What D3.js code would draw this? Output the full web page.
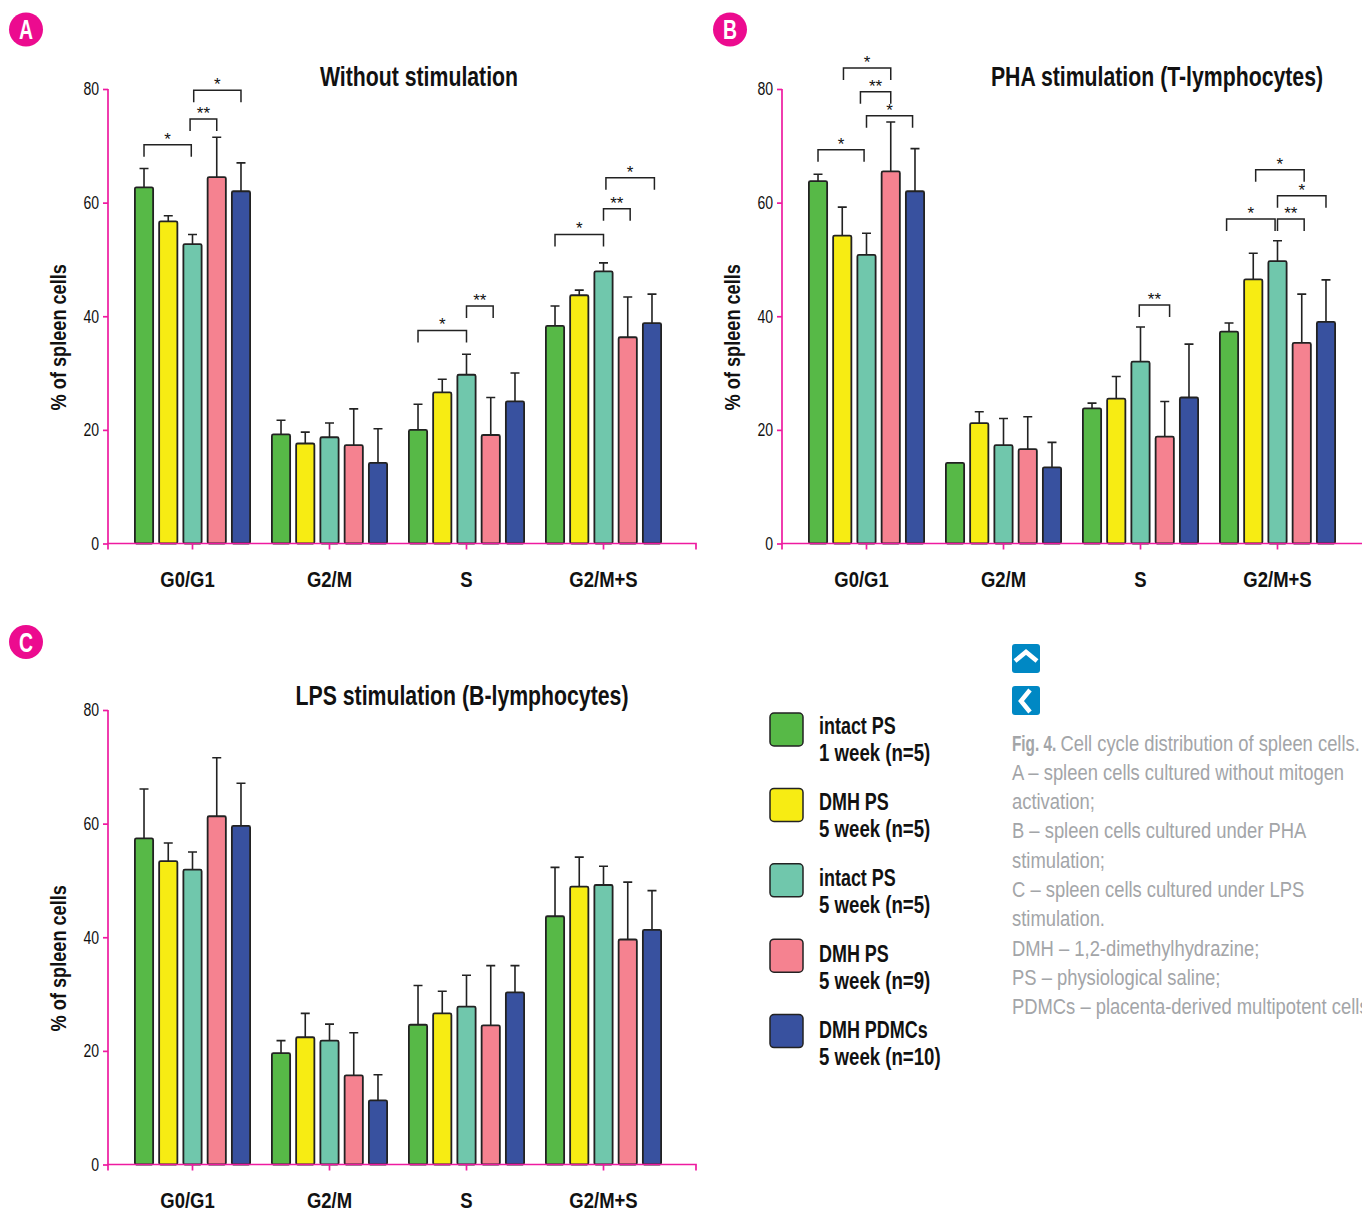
<!DOCTYPE html>
<html>
<head>
<meta charset="utf-8">
<script src="https://cdn.jsdelivr.net/npm/d3@7"></script>
<style>
  body { margin: 0; background: #fff; overflow: hidden; }
  text { font-family: "Liberation Sans", sans-serif; }
</style>
</head>
<body>
<script>
const categories = ['G0/G1', 'G2/M', 'S', 'G2/M+S'];
const seriesNames = ['intact PS', 'DMH PS', 'intact PS', 'DMH PS', 'DMH PDMCs'];
const seriesWeeks = ['1 week (n=5)', '5 week (n=5)', '5 week (n=5)', '5 week (n=9)', '5 week (n=10)'];
const seriesColors = ['#57b947', '#f7ec13', '#70c7ac', '#f58290', '#38519f'];
const yTicks = [0, 20, 40, 60, 80];

// one row per category, one value per series
const meansA = [[62.7, 56.7, 52.7, 64.5, 62], [19.2, 17.6, 18.7, 17.3, 14.2], [20, 26.6, 29.7, 19.1, 25], [38.3, 43.7, 47.9, 36.3, 38.8]];
const errorsA = [[66, 57.7, 54.4, 71.5, 67], [21.7, 19.6, 21.2, 23.7, 20.2], [24.5, 28.9, 33.3, 25.7, 30], [41.8, 44.6, 49.4, 43.4, 43.9]];
const meansB = [[63.8, 54.2, 50.8, 65.5, 62], [14.2, 21.2, 17.3, 16.6, 13.4], [23.8, 25.5, 32, 18.8, 25.7], [37.3, 46.5, 49.7, 35.3, 39]];
const errorsB = [[65, 59.2, 54.6, 74.2, 69.5], [14.2, 23.2, 22, 22.3, 17.8], [24.7, 29.4, 38.1, 25, 35.1], [38.8, 51.1, 53.3, 43.9, 46.4]];
const meansC = [[57.4, 53.4, 51.9, 61.3, 59.6], [19.6, 22.4, 21.8, 15.7, 11.3], [24.6, 26.6, 27.8, 24.5, 30.3], [43.7, 48.9, 49.2, 39.6, 41.3]];
const errorsC = [[66.1, 56.6, 55, 71.6, 67.1], [21.8, 26.6, 24.7, 23.2, 15.8], [31.5, 30.5, 33.3, 35, 35], [52.3, 54.1, 52.5, 49.7, 48.2]];

// category, from series, to series, level on the y scale, label
const bracketsA = [
  ['G0/G1', 0, 1.95, 70.2, '*'], ['G0/G1', 1.9, 3, 74.7, '**'], ['G0/G1', 2.05, 4, 79.8, '*'],
  ['S', 0, 2, 37.5, '*'], ['S', 2, 3.1, 41.8, '**'],
  ['G2/M+S', 0, 2, 54.4, '*'], ['G2/M+S', 2, 3.1, 58.9, '**'], ['G2/M+S', 2.1, 4.1, 64.4, '*']
];
const bracketsB = [
  ['G0/G1', 0, 1.9, 69.3, '*'], ['G0/G1', 1.05, 3, 83.7, '*'], ['G0/G1', 1.75, 3, 79.5, '**'], ['G0/G1', 2, 3.9, 75.3, '*'],
  ['S', 1.95, 3.2, 42, '**'],
  ['G2/M+S', -0.1, 1.9, 57.1, '*'], ['G2/M+S', 2, 3.1, 57.1, '**'], ['G2/M+S', 2, 4, 61.2, '*'], ['G2/M+S', 1.1, 3.1, 65.8, '*']
];

const captionLines = [
  'Cell cycle distribution of spleen cells.',
  'A – spleen cells cultured without mitogen',
  'activation;',
  'B – spleen cells cultured under PHA',
  'stimulation;',
  'C – spleen cells cultured under LPS',
  'stimulation.',
  'DMH – 1,2-dimethylhydrazine;',
  'PS – physiological saline;',
  'PDMCs – placenta-derived multipotent cells'
];

const magenta = '#ee1ba0';
const svg = d3.select('body').append('svg').attr('width', 1362).attr('height', 1209);

// No condensed face is installed, so narrow the glyphs of each text by hand
function squeeze(selection, factor) {
  selection.each(function () {
    const len = this.getComputedTextLength();
    d3.select(this).attr('textLength', len * factor).attr('lengthAdjust', 'spacingAndGlyphs');
  });
}

function drawPanel(opts) {
  const { left, top, title, titleX, titleY, means, errors, brackets, letter, badgeX, badgeY } = opts;
  const width = 588;
  const height = 454.5;

  const x0 = d3.scaleBand().domain(categories).range([16, 564]);
  const x1 = d3.scaleBand().domain(d3.range(5)).range([10, 127]).paddingInner(0.174);
  const y = d3.scaleLinear().domain([0, 80]).range([height, 0]);
  const barMid = (cat, s) => x0(cat) + x1(0) + x1.bandwidth() / 2 + s * x1.step();

  const chart = svg.append('g').attr('transform', `translate(${left},${top})`);

  // Bars and error bars
  categories.forEach((cat, c) => {
    const group = chart.append('g').selectAll('g')
      .data(means[c].map((m, s) => ({ m, e: errors[c][s], s })))
      .join('g');

    group.append('path')
      .attr('d', (d) => `M${barMid(cat, d.s)},${y(d.m)}V${y(d.e)}M${barMid(cat, d.s) - 4.5},${y(d.e)}h9`)
      .attr('stroke', '#222').attr('stroke-width', 1.6).attr('fill', 'none');

    group.append('rect')
      .attr('x', (d) => x0(cat) + x1(d.s) + 0.9)
      .attr('y', (d) => y(d.m))
      .attr('width', x1.bandwidth() - 1.8)
      .attr('height', (d) => height - y(d.m))
      .attr('rx', 1.5)
      .attr('fill', (d) => seriesColors[d.s])
      .attr('stroke', '#222')
      .attr('stroke-width', 1.8);
  });

  // Axes
  const xAxis = chart.append('g')
    .attr('transform', `translate(0,${height})`)
    .call(d3.axisBottom(x0).tickSize(6).tickSizeOuter(6));
  xAxis.select('.domain').attr('d', `M0,6V0H${width}V6`);
  xAxis.selectAll('.tick text')
    .attr('y', 43).attr('dy', 0)
    .attr('dx', (d) => (d === 'G0/G1' ? -5 : 0))
    .attr('font-size', 22).attr('font-weight', 'bold').attr('fill', '#111')
    .style('font-family', '"Liberation Sans", sans-serif')
    .call(squeeze, 0.84);

  const yAxis = chart.append('g')
    .call(d3.axisLeft(y).tickValues(yTicks).tickSize(5).tickPadding(4));
  yAxis.select('.domain').attr('d', `M0,0V${height}`);
  yAxis.selectAll('.tick text').attr('font-size', 18).attr('fill', '#111')
    .style('font-family', '"Liberation Sans", sans-serif')
    .call(squeeze, 0.78);

  chart.selectAll('.domain, .tick line').attr('stroke', magenta).attr('stroke-width', 1.7);

  chart.append('text')
    .attr('transform', `translate(-42,${height / 2 + 21}) rotate(-90)`)
    .attr('text-anchor', 'middle')
    .attr('font-size', 22).attr('font-weight', 'bold').attr('fill', '#111')
    .text('% of spleen cells')
    .call(squeeze, 0.825);

  svg.append('text')
    .attr('x', titleX).attr('y', titleY)
    .attr('text-anchor', 'middle')
    .attr('font-size', 27).attr('font-weight', 'bold').attr('fill', '#111')
    .text(title)
    .call(squeeze, 0.787);

  // Significance brackets
  const br = chart.append('g').selectAll('g').data(brackets).join('g');
  br.append('path')
    .attr('d', (d) => `M${barMid(d[0], d[1])},${y(d[3]) + 12}V${y(d[3])}H${barMid(d[0], d[2])}V${y(d[3]) + 12}`)
    .attr('fill', 'none').attr('stroke', '#222').attr('stroke-width', 1.5);
  br.append('text')
    .attr('x', (d) => (barMid(d[0], d[1]) + barMid(d[0], d[2])) / 2)
    .attr('y', (d) => y(d[3]))
    .attr('text-anchor', 'middle')
    .attr('font-size', 17).attr('fill', '#111')
    .text((d) => d[4]);

  drawBadge(letter, badgeX, badgeY);
}

function drawBadge(letter, cx, cy) {
  svg.append('circle').attr('cx', cx).attr('cy', cy).attr('r', 17).attr('fill', '#ec0b8f');
  svg.append('text').attr('x', cx).attr('y', cy + 9.5)
    .attr('text-anchor', 'middle').attr('font-size', 27).attr('font-weight', 'bold').attr('fill', '#fff')
    .text(letter)
    .call(squeeze, 0.72);
}

drawPanel({ left: 108, top: 89, title: 'Without stimulation', titleX: 419, titleY: 86, means: meansA, errors: errorsA, brackets: bracketsA, letter: 'A', badgeX: 26, badgeY: 29.5 });
drawPanel({ left: 782, top: 89, title: 'PHA stimulation (T-lymphocytes)', titleX: 1157, titleY: 86, means: meansB, errors: errorsB, brackets: bracketsB, letter: 'B', badgeX: 730, badgeY: 29.5 });
drawPanel({ left: 108, top: 710, title: 'LPS stimulation (B-lymphocytes)', titleX: 462, titleY: 705, means: meansC, errors: errorsC, brackets: [], letter: 'C', badgeX: 26, badgeY: 642 });

// Legend: the labels sit on a slightly wider step than the swatches
const legend = svg.append('g');
legend.selectAll('rect').data(seriesNames).join('rect')
  .attr('x', 770).attr('y', (d, i) => 713 + i * 75.4)
  .attr('width', 33).attr('height', 33).attr('rx', 4)
  .attr('fill', (d, i) => seriesColors[i]).attr('stroke', '#222').attr('stroke-width', 1.5);
legend.selectAll('text.name').data(seriesNames).join('text').attr('class', 'name')
  .attr('x', 819).attr('y', (d, i) => 734 + i * 76)
  .attr('font-size', 23).attr('font-weight', 'bold').attr('fill', '#111').text((d) => d)
  .call(squeeze, 0.78);
legend.selectAll('text.week').data(seriesWeeks).join('text').attr('class', 'week')
  .attr('x', 819).attr('y', (d, i) => 761 + i * 76)
  .attr('font-size', 23).attr('font-weight', 'bold').attr('fill', '#111').text((d) => d)
  .call(squeeze, 0.81);

// Nav buttons
const nav = svg.append('g');
nav.append('rect').attr('x', 1012).attr('y', 644).attr('width', 28).attr('height', 29).attr('rx', 3).attr('fill', '#0088c4');
nav.append('path').attr('d', 'M1015,661L1026,652L1037,661').attr('fill', 'none').attr('stroke', '#fff').attr('stroke-width', 4.5);
nav.append('rect').attr('x', 1012).attr('y', 686).attr('width', 28).attr('height', 29).attr('rx', 3).attr('fill', '#0088c4');
nav.append('path').attr('d', 'M1030,690L1021,701L1030,712').attr('fill', 'none').attr('stroke', '#fff').attr('stroke-width', 4.5);

// Caption
const caption = svg.append('g').selectAll('text').data(captionLines).join('text')
  .attr('x', 1012)
  .attr('y', (d, i) => 750.5 + i * 29.3)
  .attr('font-size', 21.5)
  .attr('fill', '#a3a5a8');
caption.filter((d, i) => i === 0).append('tspan').attr('font-weight', 'bold').text('Fig. 4. ').call(squeeze, 0.78);
caption.append('tspan').text((d) => d).call(squeeze, 0.855);
</script>
</body>
</html>
